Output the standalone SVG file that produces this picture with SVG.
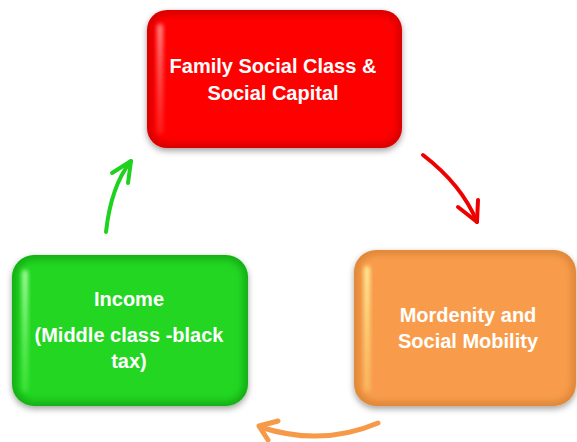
<svg xmlns="http://www.w3.org/2000/svg" width="577" height="442" viewBox="0 0 577 442">
  <defs>
    <filter id="shadow" x="-10%" y="-10%" width="120%" height="130%">
      <feDropShadow dx="0" dy="3" stdDeviation="3" flood-color="#000" flood-opacity="0.35"/>
    </filter>
    <filter id="soft" x="-10%" y="-10%" width="120%" height="120%">
      <feGaussianBlur stdDeviation="3"/>
    </filter>
    <filter id="soft2" x="-50%" y="-10%" width="200%" height="120%">
      <feGaussianBlur stdDeviation="2"/>
    </filter>
    <linearGradient id="hlRed" x1="0" y1="0" x2="0" y2="1">
      <stop offset="0" stop-color="#ff9a9a" stop-opacity="0.9"/>
      <stop offset="1" stop-color="#ff6060" stop-opacity="0.3"/>
    </linearGradient>
    <linearGradient id="hlGreen" x1="0" y1="0" x2="0" y2="1">
      <stop offset="0" stop-color="#b8ffb0" stop-opacity="0.9"/>
      <stop offset="1" stop-color="#80ff70" stop-opacity="0.3"/>
    </linearGradient>
    <linearGradient id="hlOrange" x1="0" y1="0" x2="0" y2="1">
      <stop offset="0" stop-color="#fff3a0" stop-opacity="0.95"/>
      <stop offset="1" stop-color="#ffe080" stop-opacity="0.4"/>
    </linearGradient>
  </defs>
  <style>
    .lbl { font-family: "Liberation Sans", Arial, sans-serif; font-weight: bold; font-size: 20px; fill: #ffffff; text-anchor: middle; }
    .arr { fill: none; stroke-linecap: round; stroke-linejoin: round; }
  </style>
  <rect width="577" height="442" fill="#ffffff"/>

  <g id="node-family">
    <rect x="147" y="10" width="255" height="138" rx="20" fill="#d80000" filter="url(#shadow)"/>
    <rect x="152" y="15" width="245" height="128" rx="16" fill="#ff0000" filter="url(#soft)"/>
    <rect x="157" y="24" width="6" height="110" rx="3" fill="url(#hlRed)" filter="url(#soft2)"/>
    <text class="lbl" x="273" y="73">Family Social Class &amp;</text>
    <text class="lbl" x="273" y="100">Social Capital</text>
  </g>

  <g id="node-income">
    <rect x="12" y="255" width="236" height="151" rx="22" fill="#16b016" filter="url(#shadow)"/>
    <rect x="17" y="260" width="226" height="141" rx="18" fill="#22d622" filter="url(#soft)"/>
    <rect x="22" y="270" width="6" height="122" rx="3" fill="url(#hlGreen)" filter="url(#soft2)"/>
    <text class="lbl" x="129" y="306">Income</text>
    <text class="lbl" x="129" y="342">(Middle class -black</text>
    <text class="lbl" x="129" y="368">tax)</text>
  </g>

  <g id="node-mordenity">
    <rect x="354" y="250" width="222" height="156" rx="22" fill="#e08838" filter="url(#shadow)"/>
    <rect x="359" y="255" width="212" height="146" rx="18" fill="#f89c4c" filter="url(#soft)"/>
    <rect x="364" y="266" width="6" height="126" rx="3" fill="url(#hlOrange)" filter="url(#soft2)"/>
    <text class="lbl" x="468" y="322">Mordenity and</text>
    <text class="lbl" x="468" y="348">Social Mobility</text>
  </g>

  <g id="connectors">
    <g stroke="#ee0000" stroke-width="4">
      <path class="arr" d="M423,155 Q462,185 477,222"/>
      <path class="arr" d="M458,207 L477,222 L478,200"/>
    </g>
    <g stroke="#f79a48" stroke-width="5">
      <path class="arr" d="M378,423 Q322,447 260,427"/>
      <path class="arr" d="M278,421 L259,426 L268,440"/>
    </g>
    <g stroke="#1ed21e" stroke-width="4">
      <path class="arr" d="M106,232 Q111,186 131,161"/>
      <path class="arr" d="M112,173 L131,161 L128,183"/>
    </g>
  </g>
</svg>
